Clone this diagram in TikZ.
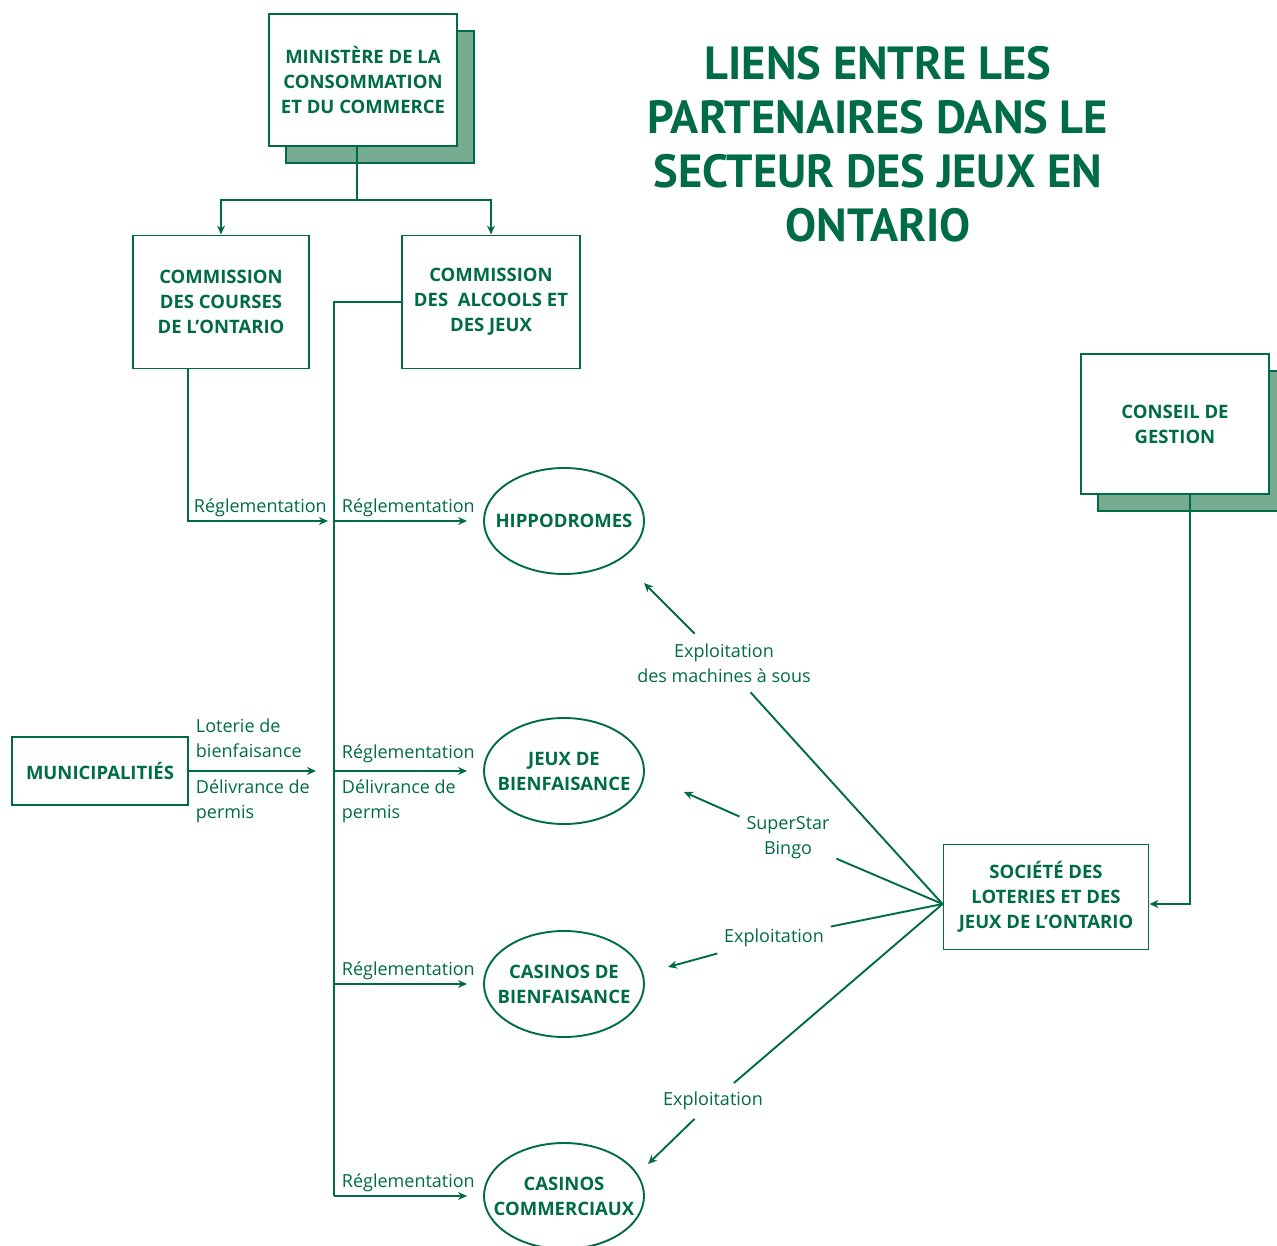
\documentclass[tikz,border=0pt]{standalone}
\usepackage{fontspec}
\setmainfont{Open Sans}
\newfontfamily\titlefont{PT Sans}
\usetikzlibrary{arrows.meta,shapes.geometric,shadows}
\definecolor{ongreen}{RGB}{0,108,70}
\definecolor{onshade}{RGB}{118,170,145}

\begin{document}
\begin{tikzpicture}[x=1pt,y=-1pt, color=ongreen, line width=1.9pt,
  partner/.style ={draw, rectangle, fill=white, align=center, inner sep=2pt,
    font=\fontsize{18.5}{25}\selectfont\bfseries},
  layered/.style ={partner, general shadow={shadow xshift=17pt, shadow yshift=-17pt,
    fill=onshade, draw=ongreen, line width=1.9pt}},
  venue/.style ={draw, ellipse, fill=white, align=center, inner xsep=-20pt, inner ysep=0pt,
    minimum width=160pt, minimum height=106pt, font=\fontsize{18.5}{25}\selectfont\bfseries},
  note/.style ={align=left, inner sep=0pt, font=\fontsize{18}{25}\selectfont},
  link/.style ={-{Stealth[length=9pt,width=8pt]}}]
 \useasboundingbox (0,0) rectangle (1277,1246);

 % title
 \node[align=center, font=\titlefont\fontsize{46.5}{54}\selectfont\bfseries] (title) at (878,144)
   {LIENS ENTRE LES\\PARTENAIRES DANS LE\\SECTEUR DES JEUX EN\\ONTARIO};

 % boxes
 \node[layered, minimum width=188pt, minimum height=132pt] (min) at (363,80)
   {MINISTÈRE DE LA\\CONSOMMATION\\ET DU COMMERCE};
 \node[partner, minimum width=176pt, minimum height=133pt] (cco) at (221,302)
   {COMMISSION\\DES COURSES\\DE L'ONTARIO};
 \node[partner, minimum width=178pt, minimum height=133pt] (caj) at (491,302)
   {COMMISSION\\DES\ \ ALCOOLS ET\\DES JEUX};
 \node[layered, minimum width=188pt, minimum height=140pt] (conseil) at (1175,424)
   {CONSEIL DE\\GESTION};
 \node[partner, minimum width=176pt, minimum height=68pt] (mun) at (100,771)
   {MUNICIPALITIÉS};
 \node[partner, minimum width=205pt, minimum height=105pt] (sljo) at (1046,897)
   {SOCIÉTÉ DES\\LOTERIES ET DES\\JEUX DE L'ONTARIO};

 % venues
 \node[venue] (hippo) at (564,521) {HIPPODROMES};
 \node[venue] (jdb)   at (564,771) {JEUX DE\\BIENFAISANCE};
 \node[venue] (cdb)   at (564,984) {CASINOS DE\\BIENFAISANCE};
 \node[venue] (cc)    at (564,1196) {CASINOS\\COMMERCIAUX};

 % ministere
 \draw ([xshift=-6pt]min.south) -- ++(0,53) coordinate (fork);
 \draw[link] (fork) -| (cco.north);
 \draw[link] (fork) -| (caj.north);

 % reglementation spine
 \coordinate (spineTop) at (334,302);
 \coordinate (spH) at (334,521);
 \coordinate (spJ) at (334,771);
 \coordinate (spC) at (334,984);
 \coordinate (spK) at (334,1196);
 \draw (caj.west) -- (spineTop) -- (spK);
 \draw[link, shorten >=16pt] (spH) -- (hippo);
 \draw[link, shorten >=16pt] (spJ) -- (jdb);
 \draw[link, shorten >=16pt] (spC) -- (cdb);
 \draw[link, shorten >=16pt] (spK) -- (cc);
 \coordinate (ccoFoot) at (188,369);
 \draw[link, shorten >=6pt] (ccoFoot) |- (spH);
 \coordinate (munTip) at (316,771);
 \draw[link] (mun.east) -- (munTip);

 \node[note, anchor=base west] (reg0) at (193,512) {Réglementation};
 \node[note, anchor=base west] (reg1) at (341,512) {Réglementation};
 \node[note, anchor=base west] (reg2) at (341,758) {Réglementation};
 \node[note, anchor=base west] (reg3) at (341,975) {Réglementation};
 \node[note, anchor=base west] (reg4) at (341,1187) {Réglementation};
 \node[note, anchor=west] (loterie) at (195,738) {Loterie de\\bienfaisance};
 \node[note, anchor=west] (permisA) at (195,801) {Délivrance de\\permis};
 \node[note, anchor=west] (permisB) at (341,801) {Délivrance de\\permis};

 % conseil -> societe
 \draw[link] ([xshift=15pt]conseil.south) |- ([yshift=-7pt]sljo.east);

 % exploitation
 \coordinate (apex) at ([yshift=-7pt]sljo.west);
 \node[note, align=center, inner sep=9pt] (slots) at (724,663)
   {Exploitation\\des machines à sous};
 \node[note, align=center, inner sep=6pt] (bingo) at (788,838) {SuperStar\\Bingo};
 \node[note, align=center, inner sep=6pt] (exA) at (774,938) {Exploitation};
 \node[note, align=center, inner sep=8pt] (exB) at (713,1101) {Exploitation};
 \coordinate (tipH) at (644,583);
 \coordinate (tipJ) at (684,792);
 \coordinate (tipC) at (668,967);
 \coordinate (tipK) at (648,1164);
 \draw (apex) -- (slots);
 \draw (apex) -- (bingo);
 \draw (apex) -- (exA);
 \draw (apex) -- (exB);
 \draw[link] (slots) -- (tipH);
 \draw[link] (bingo) -- (tipJ);
 \draw[link] (exA) -- (tipC);
 \draw[link] (exB) -- (tipK);
\end{tikzpicture}
\end{document}
